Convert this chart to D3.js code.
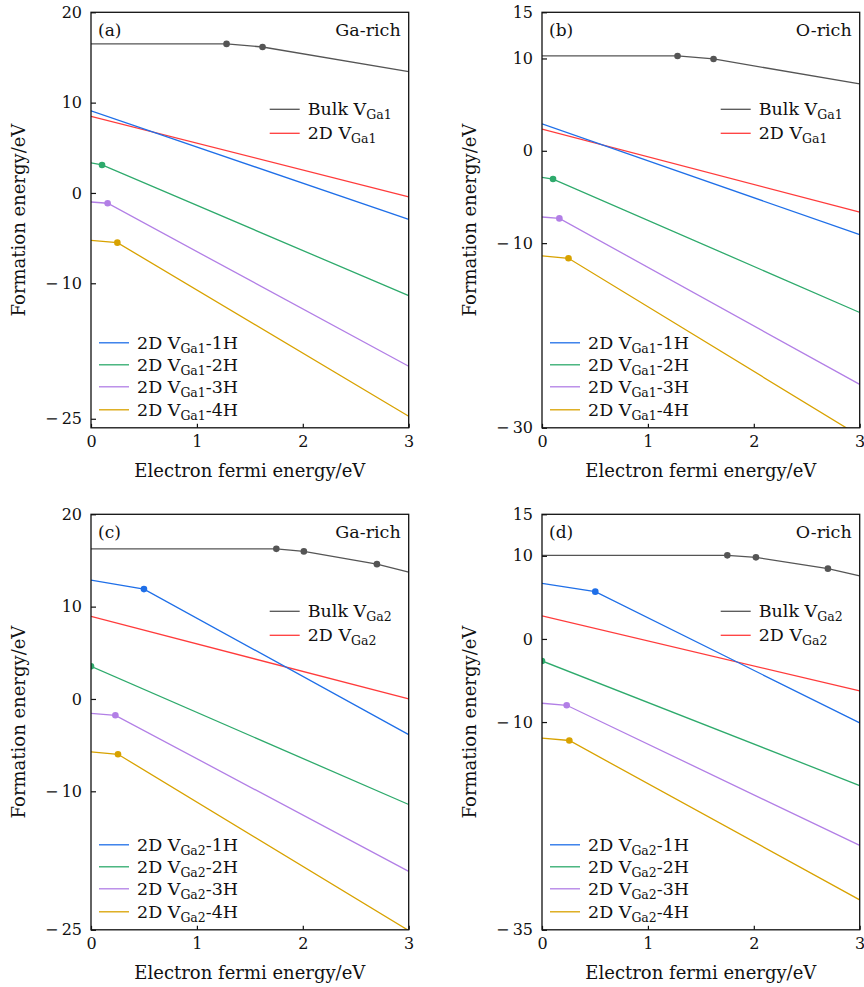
<!DOCTYPE html>
<html>
<head>
<meta charset="utf-8">
<script src="https://cdn.jsdelivr.net/npm/d3@7"></script>
<style>
  body { margin: 0; background: #fff; }
  svg text { font-family: "DejaVu Serif", serif; fill: #111; }
</style>
</head>
<body>
<div id="chart"></div>
<script>
var width = 864, height = 987;

// panel texts
var panelLabels = ["(a)", "(b)", "(c)", "(d)"];
var conditions = ["Ga-rich", "O-rich", "Ga-rich", "O-rich"];
var vacancySub = ["Ga1", "Ga1", "Ga2", "Ga2"];

// axes
var xDomain = [0, 3];
var xTicks = [0, 1, 2, 3];
var yDomains = [[-26, 20], [-30, 15], [-25, 20], [-35, 15]];
var yTicks = [[-25, -10, 0, 10, 20], [-30, -10, 0, 10, 15], [-25, -10, 0, 10, 20], [-35, -10, 0, 10, 15]];

// series: Bulk, 2D, 2D-1H, 2D-2H, 2D-3H, 2D-4H
var seriesPrefix = ["Bulk V", "2D V", "2D V", "2D V", "2D V", "2D V"];
var seriesSuffix = ["", "", "-1H", "-2H", "-3H", "-4H"];
var colors = ["#555555", "#ff3b3b", "#1f6fe8", "#2eaa6c", "#b27fe6", "#d8a200"];

// points [fermi energy, formation energy, transition-level dot?]
var linesA = [
    [[0, 16.5], [1.28, 16.5, 1], [1.62, 16.16, 1], [3, 13.43]],
    [[0, 8.49], [3, -0.44]],
    [[0, 9.08], [3, -2.92]],
    [[0, 3.32], [0.104, 3.1, 1], [3, -11.37]],
    [[0, -1.0], [0.157, -1.14, 1], [3, -19.19]],
    [[0, -5.24], [0.249, -5.5, 1], [3, -24.72]]
];
var linesB = [
    [[0, 10.27], [1.28, 10.27, 1], [1.62, 9.95, 1], [3, 7.24]],
    [[0, 2.34], [3, -6.63]],
    [[0, 2.92], [3, -9.08]],
    [[0, -2.88], [0.104, -3.06, 1], [3, -17.51]],
    [[0, -7.17], [0.164, -7.32, 1], [3, -25.3]],
    [[0, -11.39], [0.25, -11.64, 1], [3, -30.89]]
];
var linesC = [
    [[0, 16.26], [1.75, 16.26, 1], [2.01, 15.98, 1], [2.70, 14.6, 1], [3, 13.74]],
    [[0, 8.94], [3, 0.0]],
    [[0, 12.87], [0.5, 11.9, 1], [3, -3.86]],
    [[0, 3.53, 1], [3, -11.43]],
    [[0, -1.55], [0.23, -1.77, 1], [3, -18.68]],
    [[0, -5.73], [0.255, -5.99, 1], [3, -25.08]]
];
var linesD = [
    [[0, 10.06], [1.75, 10.06, 1], [2.02, 9.82, 1], [2.70, 8.46, 1], [3, 7.58]],
    [[0, 2.77], [3, -6.25]],
    [[0, 6.69], [0.503, 5.69, 1], [3, -10.1]],
    [[0, -2.65, 1], [3, -17.64]],
    [[0, -7.74], [0.233, -7.98, 1], [3, -24.85]],
    [[0, -11.94], [0.258, -12.22, 1], [3, -31.4]]
];
var panelLines = [linesA, linesB, linesC, linesD];

// layout
var plotW = 317.7, plotH = 415.5;
var origins = [[91, 12.3], [542, 12.3], [91, 514.3], [542, 514.3]];

var svg = d3.select("#chart")
    .append("svg")
    .attr("width", width)
    .attr("height", height);

// TeX-like minus with a small gap before the digits
function fmt(d) {
    return d < 0 ? "\u2212\u2009" + Math.abs(d) : String(d);
}

panelLines.forEach(function (lines, i) {
    var g = svg.append("g")
        .attr("transform", "translate(" + origins[i][0] + "," + origins[i][1] + ")");

    var x = d3.scaleLinear().domain(xDomain).range([0, plotW]);
    var y = d3.scaleLinear().domain(yDomains[i]).range([plotH, 0]);

    g.append("clipPath").attr("id", "clip" + i)
        .append("rect").attr("width", plotW).attr("height", plotH);

    var line = d3.line().x(d => x(d[0])).y(d => y(d[1]));
    var plot = g.append("g").attr("clip-path", "url(#clip" + i + ")");

    lines.forEach(function (pts, s) {
        plot.append("path")
            .attr("d", line(pts))
            .attr("fill", "none")
            .attr("stroke", colors[s])
            .attr("stroke-width", 1.3);
        plot.selectAll(null)
            .data(pts.filter(p => p[2]))
            .enter()
            .append("circle")
            .attr("cx", d => x(d[0]))
            .attr("cy", d => y(d[1]))
            .attr("r", 3.3)
            .attr("fill", colors[s]);
    });

    // axes, ticks pointing inward
    var xAxis = g.append("g")
        .attr("transform", "translate(0," + plotH + ")")
        .call(d3.axisBottom(x).tickValues(xTicks).tickSize(-4).tickPadding(8).tickFormat(fmt));
    var yAxis = g.append("g")
        .call(d3.axisLeft(y).tickValues(yTicks[i]).tickSize(-5).tickPadding(9).tickFormat(fmt));
    [xAxis, yAxis].forEach(function (ax) {
        ax.select(".domain").remove();
        ax.selectAll("line").attr("stroke", "#111").attr("stroke-width", 1.2);
        ax.selectAll("text").style("font-family", "DejaVu Serif, serif").style("font-size", "16px").attr("fill", "#111");
    });

    g.append("rect")
        .attr("width", plotW)
        .attr("height", plotH)
        .attr("fill", "none")
        .attr("stroke", "#111")
        .attr("stroke-width", 1.3);

    g.append("text")
        .attr("x", 7)
        .attr("y", 24)
        .style("font-size", "17px")
        .text(panelLabels[i]);

    g.append("text")
        .attr("x", plotW - 8)
        .attr("y", 24)
        .attr("text-anchor", "end")
        .style("font-size", "17.5px")
        .text(conditions[i]);

    g.append("text")
        .attr("x", plotW / 2)
        .attr("y", plotH + 49)
        .attr("text-anchor", "middle")
        .style("font-size", "18px")
        .text("Electron fermi energy/eV");

    g.append("text")
        .attr("transform", "translate(-66," + (plotH / 2) + ") rotate(-90)")
        .attr("text-anchor", "middle")
        .style("font-size", "18px")
        .text("Formation energy/eV");

    // legends: top-right (bulk, 2D) and bottom-left (hydrogenated)
    var legendPos = [
        [plotW - 139, 97], [plotW - 139, 121],
        [8, plotH - 85], [8, plotH - 63], [8, plotH - 41], [8, plotH - 18]
    ];
    seriesPrefix.forEach(function (pre, s) {
        var lg = g.append("g").attr("transform", "translate(" + legendPos[s][0] + "," + legendPos[s][1] + ")");
        lg.append("line")
            .attr("x1", 0).attr("x2", 30)
            .attr("stroke", colors[s]).attr("stroke-width", 1.3);
        var t = lg.append("text")
            .attr("x", 38)
            .attr("y", 6)
            .style("font-size", "17.5px");
        t.append("tspan").text(pre);
        t.append("tspan").attr("dy", 4).style("font-size", "12.5px").text(vacancySub[i]);
        if (seriesSuffix[s]) {
            t.append("tspan").attr("dy", -4).text(seriesSuffix[s]);
        }
    });
});
</script>
</body>
</html>
